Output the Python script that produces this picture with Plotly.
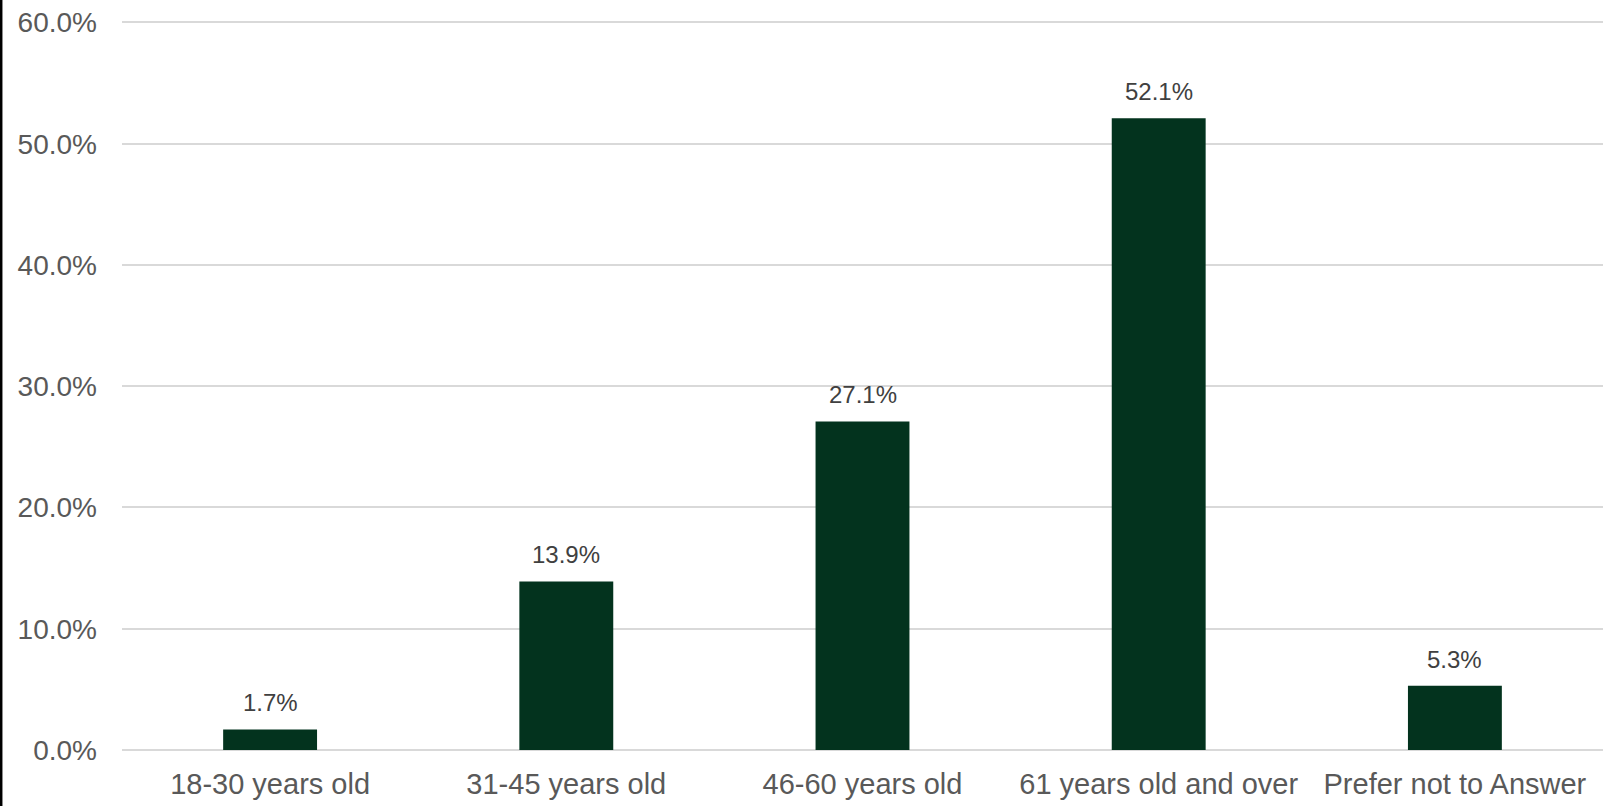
import plotly.graph_objects as go

categories = ["18-30 years old", "31-45 years old", "46-60 years old",
              "61 years old and over", "Prefer not to Answer"]
values = [0.017, 0.139, 0.271, 0.521, 0.053]
labels = ["1.7%", "13.9%", "27.1%", "52.1%", "5.3%"]
tick_vals = [0, 0.1, 0.2, 0.3, 0.4, 0.5, 0.6]
tick_text = ["0.0%", "10.0%", "20.0%", "30.0%", "40.0%", "50.0%", "60.0%"]

W, H = 1610, 806
ML, MR, MT, MB = 122, 7, 20, 56
PW, PH = W - ML - MR, H - MT - MB
FONT = "Arial, Liberation Sans, sans-serif"

fig = go.Figure()
fig.add_trace(go.Bar(x=categories, y=values, marker=dict(color="#03331E", line=dict(width=0)),
                     hoverinfo="skip", cliponaxis=False))

for c, v, t in zip(categories, values, labels):
    fig.add_annotation(x=c, y=v, text=t, showarrow=False, yanchor="bottom",
                       yshift=11, font=dict(family=FONT, size=24, color="#404040"))

fig.add_shape(type="line", xref="paper", yref="paper",
              x0=(-ML + 1.2) / PW, x1=(-ML + 1.2) / PW,
              y0=-MB / PH, y1=1 + MT / PH,
              line=dict(color="black", width=2.5))

fig.update_layout(
    width=W, height=H,
    margin=dict(l=ML, r=MR, t=MT, b=MB, pad=0, autoexpand=False),
    paper_bgcolor="white", plot_bgcolor="white",
    bargap=0.683, showlegend=False,
    font=dict(family=FONT),
)
fig.update_xaxes(showgrid=False, showline=False, ticks="", zeroline=False,
                 automargin=False, ticklabelstandoff=14,
                 tickfont=dict(family=FONT, size=29, color="#595959"))
fig.update_yaxes(range=[0, 0.602], tickvals=tick_vals, ticktext=tick_text,
                 showgrid=True, gridcolor="#D9D9D9", gridwidth=1.5,
                 zeroline=True, zerolinecolor="#D9D9D9", zerolinewidth=1.5,
                 showline=False, ticks="", ticklabelstandoff=24, automargin=False,
                 tickfont=dict(family=FONT, size=28, color="#595959"))

fig.write_html("out.html", config={"displayModeBar": False},
               post_script="document.body.style.margin='0';document.body.style.overflow='hidden';")
